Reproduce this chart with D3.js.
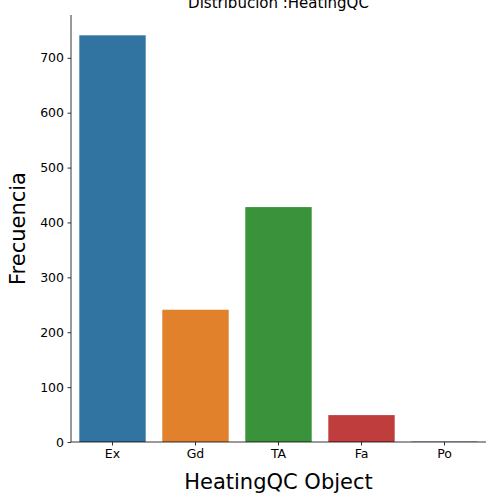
<!DOCTYPE html>
<html><head><meta charset="utf-8">
<script src="https://cdn.jsdelivr.net/npm/d3@7"></script>
<style>body{margin:0;background:#fff}text{font-family:"DejaVu Sans",sans-serif}</style>
</head><body><svg id="svg" width="500" height="500"></svg>
<script>
var categories = ["Ex", "Gd", "TA", "Fa", "Po"];
var counts = [741, 241, 428, 49, 1];
var colors = ["#3274a1", "#e1812c", "#3a923a", "#c03d3e", "#9372b2"];
var yTicks = [0, 100, 200, 300, 400, 500, 600, 700];

var margin = { top: 15, right: 14, bottom: 58, left: 71 };
var chartWidth = 500 - margin.left - margin.right;
var chartHeight = 500 - margin.top - margin.bottom;

var svg = d3.select("svg");
var chart = svg.append("g")
    .attr("transform", "translate(" + margin.left + "," + margin.top + ")");

// seaborn: bar width 0.8 of each unit slot, so the outer gap is half the inner gap
var xScale = d3.scaleBand().domain(categories).range([0, chartWidth])
    .paddingInner(0.2).paddingOuter(0.1);
var yScale = d3.scaleLinear().domain([0, 778]).range([chartHeight, 0]);

chart.selectAll("rect").data(counts).enter().append("rect")
    .attr("x", function (d, i) { return xScale(categories[i]); })
    .attr("y", function (d) { return yScale(d); })
    .attr("width", xScale.bandwidth())
    .attr("height", function (d) { return chartHeight - yScale(d); })
    .attr("fill", function (d, i) { return colors[i]; });

var yAxis = chart.append("g").call(d3.axisLeft(yScale).tickValues(yTicks).tickSize(3.5).tickPadding(3.5));
var xAxis = chart.append("g").attr("transform", "translate(0," + chartHeight + ")")
    .call(d3.axisBottom(xScale).tickSize(3.5).tickPadding(3.5));
[xAxis, yAxis].forEach(function (a) {
    a.selectAll("text").attr("font-size", 12.5).attr("font-family", "DejaVu Sans").attr("fill", "#000");
    a.selectAll("line,path").attr("stroke", "#000").attr("stroke-width", 0.8);
});
yAxis.select("path").attr("d", "M0," + chartHeight + "V0");
xAxis.select("path").attr("d", "M0,0H" + chartWidth);

svg.append("text").attr("x", margin.left + chartWidth / 2).attr("y", 489)
    .attr("text-anchor", "middle").attr("font-size", 21).text("HeatingQC Object");
svg.append("text").attr("transform", "translate(25," + (margin.top + chartHeight / 2) + ") rotate(-90)")
    .attr("text-anchor", "middle").attr("font-size", 21).text("Frecuencia");
svg.append("text").attr("x", margin.left + chartWidth / 2).attr("y", 8)
    .attr("text-anchor", "middle").attr("font-size", 15).text("Distribucion :HeatingQC");
</script></body></html>
